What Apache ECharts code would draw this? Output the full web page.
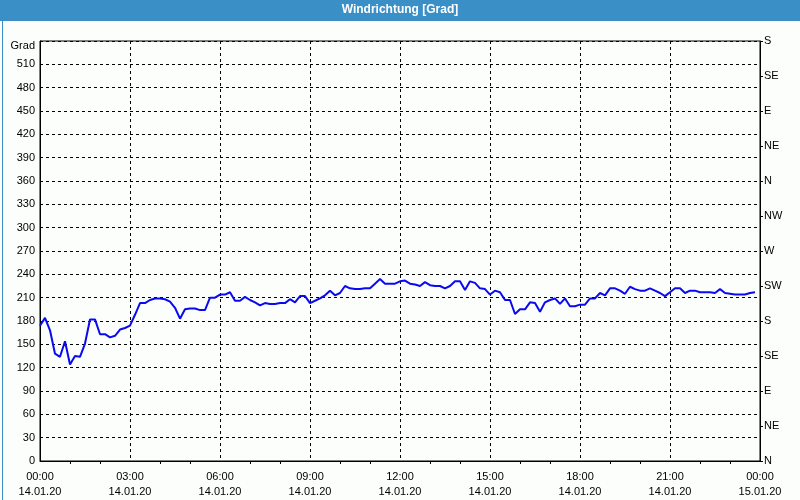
<!DOCTYPE html>
<html>
<head>
<meta charset="utf-8">
<script src="https://cdn.jsdelivr.net/npm/echarts@6/dist/echarts.min.js"></script>
<style>html,body{margin:0;padding:0;background:#fcfefc;}#c{width:800px;height:500px;}</style>
</head>
<body>
<div id="c"></div>
<script>
// ---- data ----
const times = [
"00:00","00:10","00:20","00:30","00:40","00:50","01:00","01:10","01:20","01:30","01:40","01:50",
"02:00","02:10","02:20","02:30","02:40","02:50","03:00","03:10","03:20","03:30","03:40","03:50",
"04:00","04:10","04:20","04:30","04:40","04:50","05:00","05:10","05:20","05:30","05:40","05:50",
"06:00","06:10","06:20","06:30","06:40","06:50","07:00","07:10","07:20","07:30","07:40","07:50",
"08:00","08:10","08:20","08:30","08:40","08:50","09:00","09:10","09:20","09:30","09:40","09:50",
"10:00","10:10","10:20","10:30","10:40","10:50","11:00","11:10","11:20","11:30","11:40","11:50",
"12:00","12:10","12:20","12:30","12:40","12:50","13:00","13:10","13:20","13:30","13:40","13:50",
"14:00","14:10","14:20","14:30","14:40","14:50","15:00","15:10","15:20","15:30","15:40","15:50",
"16:00","16:10","16:20","16:30","16:40","16:50","17:00","17:10","17:20","17:30","17:40","17:50",
"18:00","18:10","18:20","18:30","18:40","18:50","19:00","19:10","19:20","19:30","19:40","19:50",
"20:00","20:10","20:20","20:30","20:40","20:50","21:00","21:10","21:20","21:30","21:40","21:50",
"22:00","22:10","22:20","22:30","22:40","22:50","23:00","23:10","23:20","23:30","23:40","23:50"
];
const direction = [
174,184,168,138,134,154,124,135,134,151,182,182,
163,163,159,161,169,171,174,188,203,203,207,209,
209,208,205,197,183,195,196,196,194,194,210,210,
214,214,217,206,206,211,207,204,200,203,202,202,
203,203,208,204,212,212,203,206,209,213,219,213,
216,225,222,221,221,222,222,228,234,228,228,228,
231,232,228,227,225,230,226,225,225,222,225,231,
231,220,231,229,222,221,214,219,217,207,207,189,
195,195,204,203,192,204,207,209,202,209,199,199,
201,201,209,209,216,213,222,222,219,215,224,221,
219,219,222,219,216,212,217,222,222,216,219,219,
217,217,217,216,221,216,215,214,214,214,216,217
];
const xTickLabels = [
"00:00\n14.01.20","03:00\n14.01.20","06:00\n14.01.20","09:00\n14.01.20",
"12:00\n14.01.20","15:00\n14.01.20","18:00\n14.01.20","21:00\n14.01.20","00:00\n15.01.20"
];
const compassLabels = ["N","NE","E","SE","S","SW","W","NW","N","NE","E","SE","S"];
const titleText = "Windrichtung [Grad]";
const unitText = "Grad";

// ---- chart ----
const FONT = "Liberation Sans";
const toHours = t => { const p = t.split(":"); return +p[0] + (+p[1]) / 60; };
const seriesData = times.map((t, i) => [toHours(t), direction[i]]);
const dash = { color: "#000", width: 1, type: [3, 3] };

const chart = echarts.init(document.getElementById("c"), null, { renderer: "canvas" });
chart.setOption({
  animation: false,
  backgroundColor: "#fcfefc",
  textStyle: { fontFamily: FONT },
  grid: { left: 40, right: 40, top: 41, bottom: 39, show: true, borderColor: "#000", borderWidth: 1, backgroundColor: "#fcfefc" },
  graphic: [
    { type: "rect", left: 0, top: 0, shape: { width: 800, height: 21 }, style: { fill: "#3b8fc7" }, z: 10 },
    { type: "text", left: "center", top: 4, style: { text: titleText, fill: "#fff", font: "bold 12px " + FONT }, z: 11 },
    { type: "rect", left: 0, top: 0, shape: { x: 0.5, y: 0.5, width: 799, height: 499 }, style: { fill: "none", stroke: "#3b8fc7", lineWidth: 1 }, z: 12 },
    { type: "text", right: 765, top: 40, style: { text: unitText, fill: "#000", font: "11px " + FONT }, z: 11 }
  ],
  xAxis: {
    type: "value", min: 0, max: 24, interval: 3,
    axisLine: { show: true, lineStyle: { color: "#000", width: 1 } },
    axisTick: { show: false },
    minorTick: { show: true, splitNumber: 3, length: 3, lineStyle: { color: "#000" } },
    minorSplitLine: { show: false },
    splitLine: { show: true, lineStyle: dash },
    axisLabel: {
      color: "#000", fontSize: 11, fontFamily: FONT, margin: 8, lineHeight: 15,
      formatter: v => xTickLabels[Math.round(v / 3)]
    }
  },
  yAxis: [
    {
      type: "value", min: 0, max: 540, interval: 30, position: "left",
      axisLine: { show: true, lineStyle: { color: "#000", width: 1 } },
      axisTick: { show: false },
      splitLine: { show: true, lineStyle: dash },
      axisLabel: { color: "#000", fontSize: 11, fontFamily: FONT, margin: 5, padding: [3, 0, 0, 0], formatter: v => (v === 540 ? "" : String(v)) }
    },
    {
      type: "value", min: 0, max: 540, interval: 45, position: "right",
      axisLine: { show: true, lineStyle: { color: "#000", width: 1 } },
      axisTick: { show: true, length: 3, lineStyle: { color: "#000" } },
      splitLine: { show: false },
      axisLabel: { color: "#000", fontSize: 11, fontFamily: FONT, margin: 4, padding: [4, 0, 0, 0], formatter: v => compassLabels[Math.round(v / 45)] }
    }
  ],
  series: [{
    type: "line", data: seriesData, yAxisIndex: 0,
    showSymbol: false, symbol: "none",
    lineStyle: { color: "#0a0af0", width: 2 },
    z: 5
  }]
});
</script>
</body>
</html>
